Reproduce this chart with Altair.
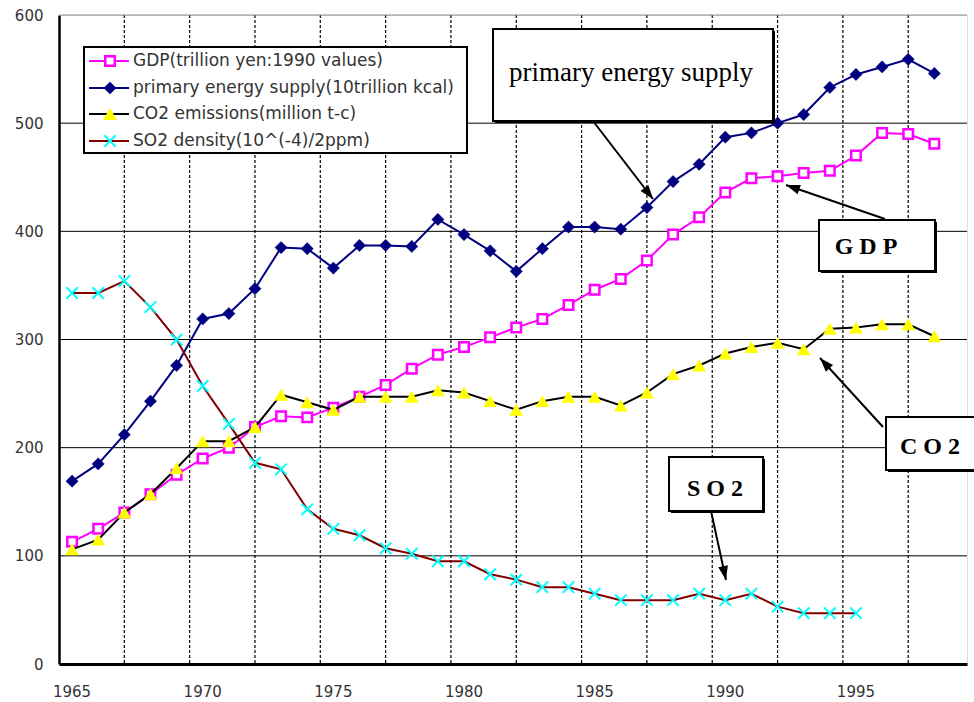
import math
import altair as alt
import pandas as pd

# ---- series values -------------------------------------------------------
years = list(range(1965, 1999))          # GDP, energy, CO2
years_so2 = list(range(1965, 1996))      # SO2 ends earlier

gdp = [113, 125, 140, 157, 175, 190, 200, 219, 229, 228,
       237, 247, 258, 273, 286, 293, 302, 311, 319, 332,
       346, 356, 373, 397, 413, 436, 449, 451, 454, 456,
       470, 491, 490, 481]
energy = [169, 185, 212, 243, 276, 319, 324, 347, 385, 384,
          366, 387, 387, 386, 411, 397, 382, 363, 384, 404,
          404, 402, 422, 446, 462, 487, 491, 500, 508, 533,
          545, 552, 559, 546]
co2 = [106, 115, 140, 157, 181, 206, 206, 219, 249, 242,
       235, 247, 247, 247, 253, 251, 243, 235, 243, 247,
       247, 239, 251, 268, 276, 287, 293, 297, 291, 310,
       311, 314, 314, 303]
so2 = [343, 343, 354, 330, 300, 257, 222, 186, 180, 143,
       125, 119, 107, 102, 95, 95, 83, 78, 71, 71,
       65, 59, 59, 59, 65, 59, 65, 53, 47, 47,
       47]

series_names = [
    "GDP(trillion yen:1990 values)",
    "primary energy supply(10trillion kcal)",
    "CO2 emissions(million t-c)",
    "SO2 density(10^(-4)/2ppm)",
]

x_labels = [1965, 1970, 1975, 1980, 1985, 1990, 1995]
y_ticks = [0, 100, 200, 300, 400, 500, 600]
x_grid = [1967 + 2.5 * i for i in range(13)]

# ---- layout --------------------------------------------------------------
W, H = 908, 649
PAD_L, PAD_T = 59, 15
TEXT_FONT = "DejaVu Sans"
SERIF = "Liberation Serif"
GRAY_TEXT = "#333333"

X = alt.X("year:Q",
          scale=alt.Scale(domain=[1964.5, 1999.25], nice=False, zero=False),
          axis=alt.Axis(labels=False, ticks=False, grid=False, title=None,
                        domainColor="black", domainWidth=3))
Y = alt.Y("value:Q",
          scale=alt.Scale(domain=[0, 600], nice=False, zero=True),
          axis=alt.Axis(values=y_ticks, grid=False, ticks=False, title=None,
                        labelPadding=16, labelFont=TEXT_FONT, labelFontSize=15,
                        labelColor=GRAY_TEXT, domainColor="black", domainWidth=2.5))

one = alt.Data(values=[{}])

CROSS = "M-1,-1L1,1M-1,1L1,-1"
ARROW = "M0,0L0.7,2L-0.7,2Z"

styles = [
    dict(line="#FF00FF", mark=dict(shape="square", filled=True, fill="white",
                                   stroke="#FF00FF", strokeWidth=2.5, size=90)),
    dict(line="#000080", mark=dict(shape="diamond", filled=True, fill="#000080",
                                   stroke="#000080", strokeWidth=0.5, size=150)),
    dict(line="#000000", mark=dict(shape="triangle-up", filled=True, fill="#FFFF00",
                                   strokeWidth=0, size=190)),
    dict(line="#800000", mark=dict(shape=CROSS, filled=False, stroke="#00FFFF",
                                   strokeWidth=2, size=130)),
]

# ---- grid -----------------------------------------------------------------
vgrid = alt.Chart(pd.DataFrame({"year": x_grid})).mark_rule(
    color="black", strokeWidth=1.2, strokeDash=[3, 2]
).encode(x=X, y=alt.value(0), y2=alt.value(H))

hgrid_df = pd.DataFrame({"value": y_ticks[1:],
                         "c": ["black"] * 5 + ["#8c8c8c"]})
hgrid = alt.Chart(hgrid_df).mark_rule(strokeWidth=1).encode(
    y=Y, x=alt.value(0), x2=alt.value(W), color=alt.Color("c:N", scale=None))

xlab = alt.Chart(pd.DataFrame({"year": x_labels})).mark_text(
    font=TEXT_FONT, fontSize=15, color=GRAY_TEXT, baseline="middle", align="center"
).encode(x=X, y=alt.value(677), text="year:N")

# ---- series ---------------------------------------------------------------
series_data = [
    (years, gdp), (years, energy), (years, co2), (years_so2, so2)
]
series_layers = []
for (yrs, vals), st in zip(series_data, styles):
    df = pd.DataFrame({"year": yrs, "value": vals})
    base = alt.Chart(df)
    series_layers.append(base.mark_line(color=st["line"], strokeWidth=2).encode(x=X, y=Y))
    series_layers.append(base.mark_point(opacity=1, **st["mark"]).encode(x=X, y=Y))

# ---- boxes, labels, arrows ------------------------------------------------
def box(x1, y1, x2, y2, shadow=2):
    sh = alt.Chart(one).mark_rect(color="black").encode(
        x=alt.value(x1 + shadow), x2=alt.value(x2 + shadow),
        y=alt.value(y1 + shadow), y2=alt.value(y2 + shadow))
    fr = alt.Chart(one).mark_rect(fill="white", stroke="black", strokeWidth=2).encode(
        x=alt.value(x1), x2=alt.value(x2), y=alt.value(y1), y2=alt.value(y2))
    return [sh, fr] if shadow else [fr]


def label(txt, x, y, size, weight="normal"):
    return alt.Chart(one).mark_text(
        text=txt, font=SERIF, fontSize=size, fontWeight=weight, color="black",
        align="center", baseline="alphabetic"
    ).encode(x=alt.value(x), y=alt.value(y))


def arrow(sx, sy, tx, ty):
    ang = math.degrees(math.atan2(tx - sx, -(ty - sy))) % 360
    shaft = alt.Chart(one).mark_rule(color="black", strokeWidth=2).encode(
        x=alt.value(sx), y=alt.value(sy), x2=alt.value(tx), y2=alt.value(ty))
    head = alt.Chart(one).mark_point(
        shape=ARROW, filled=True, color="black", size=196, angle=ang,
        opacity=1, strokeWidth=0
    ).encode(x=alt.value(tx), y=alt.value(ty))
    return [shaft, head]


notes = []
notes += box(434, 14, 714, 106)
notes += [label("primary energy supply", 572, 66, 27)]
notes += arrow(534, 106, 594, 184)

notes += box(760, 205, 876, 256)
notes += [label("G D P", 807, 239, 24, "bold")]
notes += arrow(826, 204, 727, 170)

notes += box(827, 402, 940, 455)
notes += [label("C O 2", 871, 439, 24, "bold")]
notes += arrow(824, 412, 761, 343)

notes += box(610, 442, 704, 496)
notes += [label("S O 2", 656, 481, 24, "bold")]
notes += arrow(652, 496, 667, 565)

# ---- legend -------------------------------------------------------------
legend = box(25, 32, 408, 138, shadow=0)
row_y = [46, 73, 99, 126]
for name, st, ry in zip(series_names, styles, row_y):
    legend.append(alt.Chart(one).mark_rule(color=st["line"], strokeWidth=2).encode(
        x=alt.value(30), x2=alt.value(70), y=alt.value(ry), y2=alt.value(ry)))
    legend.append(alt.Chart(one).mark_point(opacity=1, **st["mark"]).encode(
        x=alt.value(51), y=alt.value(ry)))
    legend.append(alt.Chart(one).mark_text(
        text=name, font=TEXT_FONT, fontSize=17, color=GRAY_TEXT,
        align="left", baseline="middle").encode(x=alt.value(74), y=alt.value(ry)))

chart = alt.layer(
    vgrid, hgrid, xlab, *legend, *series_layers, *notes
).properties(
    width=W, height=H,
    autosize=alt.AutoSizeParams(type="none"),
    padding={"left": PAD_L, "top": PAD_T, "right": 974 - PAD_L - W, "bottom": 702 - PAD_T - H},
).configure_view(stroke=None).configure(background="white")

chart.save("out.html", embed_options={"renderer": "svg", "actions": False})
